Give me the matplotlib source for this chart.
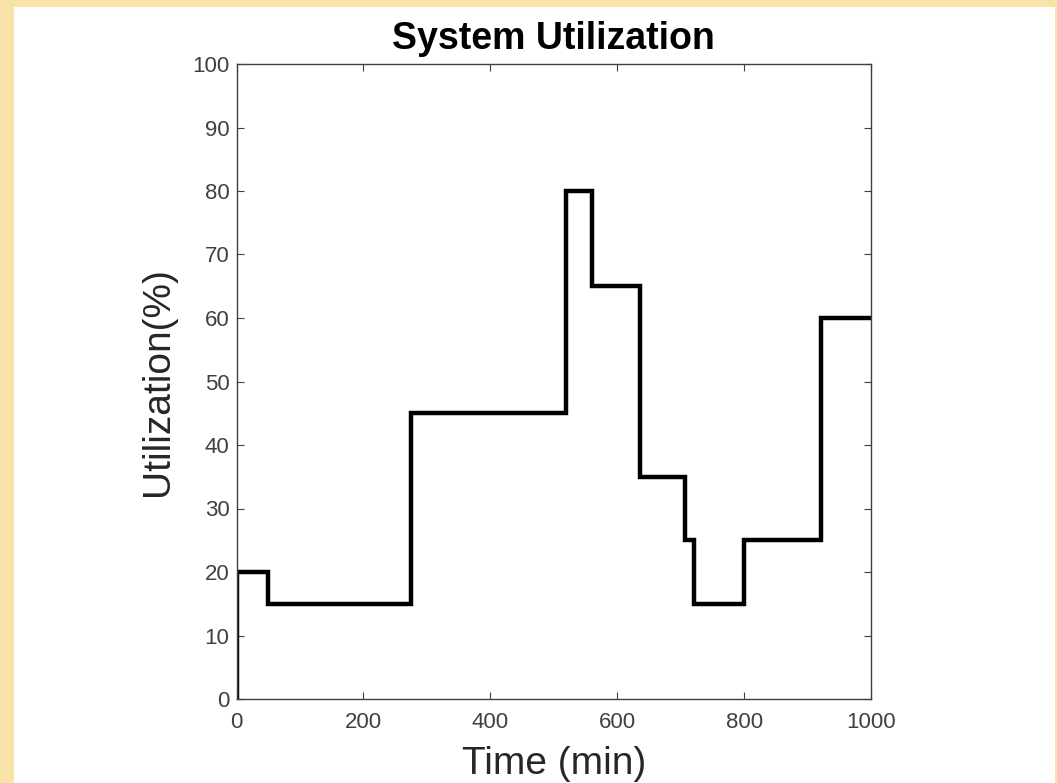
import matplotlib.pyplot as plt
from matplotlib.patches import Rectangle

plt.rcParams['font.family'] = ['Liberation Sans', 'DejaVu Sans']

# step change times (min) and utilization level after each change (%)
t_change = [0, 0, 50, 275, 520, 560, 636, 707, 721, 800, 921, 1000]
util = [0, 20, 15, 45, 80, 65, 35, 25, 15, 25, 60, 60]

fig = plt.figure(figsize=(10.57, 7.83), dpi=100, facecolor='#F8E3A9')
# white page inside the yellow frame
fig.patches.append(Rectangle((14 / 1057, 0), (1055 - 14) / 1057, 1 - 7 / 783,
                             transform=fig.transFigure, facecolor='white',
                             edgecolor='none', zorder=-10))

ax = fig.add_axes([236.5 / 1057, 1 - 699 / 783, (871 - 236.5) / 1057, (699 - 64) / 783])
ax.step(t_change, util, where='post', color='black', lw=3.2, solid_joinstyle='miter')

ax.set_xlim(0, 1000)
ax.set_ylim(0, 100)
ax.set_xticks(range(0, 1001, 200))
ax.set_yticks(range(0, 101, 10))

grey = '#404040'
for s in ax.spines.values():
    s.set_color(grey)
    s.set_linewidth(1.0)
ax.tick_params(direction='in', top=True, right=True, length=5, width=0.8,
               colors=grey, labelsize=16, labelcolor=grey)
ax.tick_params(axis='x', pad=9)
ax.tick_params(axis='y', pad=5)

ax.set_title('System Utilization', fontsize=27, fontweight='bold', pad=11)
ax.set_xlabel('Time (min)', fontsize=28, color='#262626', labelpad=10)
ax.set_ylabel('Utilization(%)', fontsize=28, color='#262626', labelpad=12)

fig.savefig('out.png', dpi=100, facecolor=fig.get_facecolor())
